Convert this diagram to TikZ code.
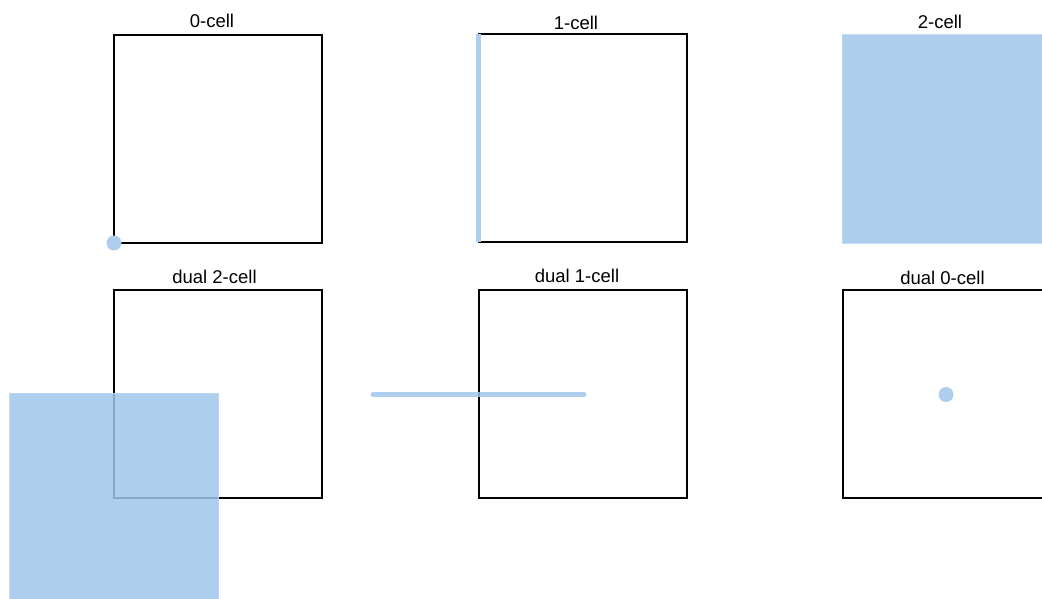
\documentclass[tikz,border=0pt]{standalone}
\usepackage{fontspec}
\setmainfont{Liberation Sans}
\definecolor{cellblue}{RGB}{160,197,234}
\definecolor{cellsolid}{RGB}{174,206,237}
\definecolor{cellstroke}{RGB}{190,215,240}
\begin{document}
\begin{tikzpicture}[x=1pt,y=-1pt,
  cellbox/.style={draw=black,line width=2pt,minimum width=208pt,minimum height=208pt,inner sep=0pt,outer sep=0pt},
  bluesq/.style={fill=cellblue,fill opacity=0.85,draw=cellstroke,draw opacity=0.85,line width=1pt,minimum width=208pt,minimum height=208pt,inner sep=0pt,outer sep=0pt},
  bluedot/.style={circle,fill=cellsolid,minimum size=15pt,inner sep=0pt},
  blueline/.style={draw=cellblue,draw opacity=0.85,line width=5pt,line cap=round},
  lbl/.style={anchor=base,font=\fontsize{18.5}{22}\selectfont,inner sep=0pt}]
\useasboundingbox (0,0) rectangle (1042,599);
\clip (0,0) rectangle (1042,599);
% top row
\node[cellbox] (b0) at (218,139) {};
\node[lbl] (t0) at (212,28) {0-cell};
\node[bluedot] (d0) at (b0.south west) {};

\node[cellbox] (b1) at (583,138) {};
\node[lbl] (t1) at (576,29.5) {1-cell};
\coordinate (l1a) at ([xshift=-1pt]b1.north west);
\coordinate (l1b) at ([xshift=-1pt]b1.south west);
\draw[blueline,draw=cellsolid,draw opacity=1,line cap=butt] (l1a) -- (l1b);

\node[bluesq,minimum width=210pt] (b2) at (947,139) {};
\node[lbl] (t2) at (940,28.5) {2-cell};

% bottom row
\node[cellbox] (c0) at (218,394) {};
\node[lbl] (u0) at (214.5,283) {dual 2-cell};
\node[bluesq,minimum width=209pt,minimum height=210pt] (s0) at (c0.south west) {};

\node[cellbox] (c1) at (583,394) {};
\node[lbl] (u1) at (577,282) {dual 1-cell};
\coordinate (m1a) at ([xshift=-106pt,yshift=-0.5pt]c1.west);
\coordinate (m1b) at ([xshift=105pt,yshift=-0.5pt]c1.west);
\draw[blueline] (m1a) -- (m1b);

\node[cellbox] (c2) at (947,394) {};
\node[lbl] (u2) at (942.5,284) {dual 0-cell};
\node[bluedot] (d2) at ([xshift=-1pt,yshift=-0.5pt]c2.center) {};
\end{tikzpicture}
\end{document}
